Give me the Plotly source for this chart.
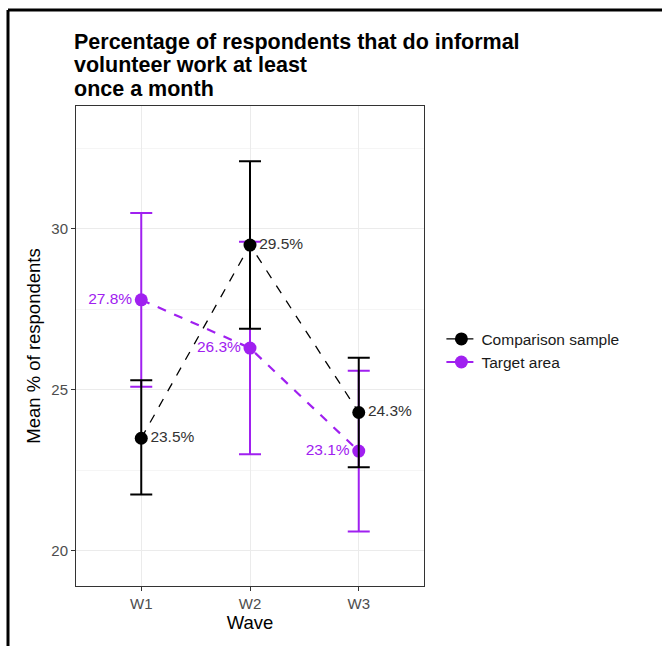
import plotly.graph_objects as go

waves = ["W1", "W2", "W3"]
x_pos = [1, 2, 3]

comparison_mean = [23.5, 29.5, 24.3]
comparison_upper = [25.3, 32.1, 26.0]
comparison_lower = [21.75, 26.9, 22.6]

target_mean = [27.8, 26.3, 23.1]
target_upper = [30.5, 29.6, 25.6]
target_lower = [25.1, 23.0, 20.6]

comparison_labels = ["23.5%", "29.5%", "24.3%"]
target_labels = ["27.8%", "26.3%", "23.1%"]

y_ticks = [20, 25, 30]

title_lines = ["Percentage of respondents that do informal",
               "volunteer work at least",
               "once a month"]

PURPLE = "#A020F0"
BLACK = "#000000"
FONT = "Arial, Liberation Sans"

fig = go.Figure()

def add_series(name, mean, upper, lower, labels, color, line_w, textpos, textcolor, rank):
    fig.add_trace(go.Scatter(
        x=x_pos, y=mean, name=name, mode="lines+markers+text",
        text=labels, textposition=textpos,
        textfont=dict(family=FONT, size=15.5, color=textcolor),
        line=dict(color=color, width=line_w, dash="dash"),
        marker=dict(color=color, size=13),
        error_y=dict(type="data", symmetric=False,
                     array=[u - m for u, m in zip(upper, mean)],
                     arrayminus=[m - l for m, l in zip(mean, lower)],
                     color=color, thickness=2, width=11),
        legendrank=rank, cliponaxis=False,
    ))

add_series("Target area", target_mean, target_upper, target_lower, target_labels,
           PURPLE, 2.2, "middle left", PURPLE, 2)
add_series("Comparison sample", comparison_mean, comparison_upper, comparison_lower,
           comparison_labels, BLACK, 1.3, "middle right", "#333333", 1)

pw, ph = 348.0, 480.0

fig.update_layout(
    width=662, height=646,
    margin=dict(l=76, r=238, t=106, b=60),
    paper_bgcolor="white", plot_bgcolor="white",
    font=dict(family=FONT, color="#000000"),
    legend=dict(x=1.05, xanchor="left", y=0.49, yanchor="middle",
                font=dict(size=15.5, color="#1a1a1a"), bgcolor="rgba(0,0,0,0)",
                itemwidth=30),
    showlegend=True,
)

for i, line in enumerate(title_lines):
    yc = 42 + i * 23.5
    fig.add_annotation(text="<b>" + line + "</b>", xref="paper", yref="paper",
                       x=(72 - 76) / pw, xanchor="left",
                       y=(586 - yc) / ph, yanchor="middle", showarrow=False,
                       font=dict(family=FONT, size=21.5, color="#000000"))

fig.update_xaxes(
    range=[0.4, 3.6], tickvals=x_pos, ticktext=waves,
    title=dict(text="Wave", font=dict(size=18.5, color="#000000"), standoff=4),
    tickfont=dict(size=15, color="#4D4D4D"),
    showgrid=True, gridcolor="#EBEBEB", gridwidth=1,
    ticks="outside", ticklen=4, tickcolor="#333333",
    showline=True, linecolor="#333333", linewidth=1, mirror=True, zeroline=False,
)
fig.update_yaxes(
    range=[18.91, 33.82], tickvals=y_ticks,
    title=dict(text="Mean % of respondents", font=dict(size=18.5, color="#000000"), standoff=5),
    tickfont=dict(size=15, color="#4D4D4D"),
    showgrid=True, gridcolor="#EBEBEB", gridwidth=1,
    minor=dict(tickvals=[22.5, 27.5, 32.5], showgrid=True, gridcolor="#F5F5F5", gridwidth=1),
    ticks="outside", ticklen=4, tickcolor="#333333",
    showline=True, linecolor="#333333", linewidth=1, mirror=True, zeroline=False,
)

# outer black frame (left and top edges)
x_left = (8 - 76) / pw
y_top = (586 - 10) / ph
y_bot = (586 - 646) / ph
x_right = (662 - 76) / pw
fig.add_shape(type="line", xref="paper", yref="paper", x0=x_left, x1=x_left,
              y0=y_bot, y1=y_top, line=dict(color="black", width=3))
fig.add_shape(type="line", xref="paper", yref="paper", x0=x_left, x1=x_right,
              y0=y_top, y1=y_top, line=dict(color="black", width=3))

fig.write_html("out.html")
